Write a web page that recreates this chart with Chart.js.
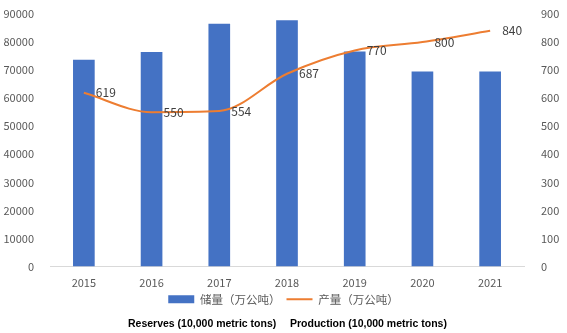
<!DOCTYPE html>
<html>
<head>
<meta charset="utf-8">
<script src="https://cdn.jsdelivr.net/npm/chart.js@4"></script>
<style>
  html, body { margin: 0; padding: 0; background: #fff; }
  #wrap { position: relative; width: 567px; height: 333px; }
  .en { position: absolute; top: 317px; font: bold 10.5px "Liberation Sans", Arial, sans-serif; color: #000; white-space: nowrap; }
</style>
</head>
<body>
<div id="wrap">
  <canvas id="chart" width="567" height="333"></canvas>
  <div class="en" style="left:128px">Reserves (10,000 metric tons)</div>
  <div class="en" style="left:290px">Production (10,000 metric tons)</div>
</div>
<script>
// chart data
const years = ['2015', '2016', '2017', '2018', '2019', '2020', '2021'];
const reserves = [73700, 76500, 86500, 87800, 76600, 69500, 69500];
const production = [619, 550, 554, 687, 770, 800, 840];
const seriesNames = ['储量（万公吨）', '产量（万公吨）'];

const blue = '#4472C4';
const orange = '#ED7D31';
const tickColor = '#595959';
const font = { family: '"Noto Sans CJK SC", "DejaVu Sans", sans-serif', size: 11 };

// little plugin to write the production values next to the line points
const valueLabels = {
    id: 'valueLabels',
    afterDatasetsDraw(chart) {
        const ctx = chart.ctx;
        const meta = chart.getDatasetMeta(1);
        ctx.save();
        ctx.font = '12px "Noto Sans CJK SC", "DejaVu Sans", sans-serif';
        ctx.fillStyle = '#404040';
        ctx.textAlign = 'left';
        ctx.textBaseline = 'middle';
        meta.data.forEach((pt, i) => {
            ctx.fillText(production[i], pt.x + 12, pt.y);
        });
        ctx.restore();
    }
};

function createChart() {
    const ctx = document.getElementById('chart').getContext('2d');
    new Chart(ctx, {
        data: {
            labels: years,
            datasets: [{
                type: 'bar',
                label: seriesNames[0],
                data: reserves,
                backgroundColor: blue,
                borderWidth: 0,
                yAxisID: 'y',
                categoryPercentage: 1,
                barPercentage: 0.32,
                order: 2
            }, {
                type: 'line',
                label: seriesNames[1],
                data: production,
                borderColor: orange,
                backgroundColor: orange,
                borderWidth: 2,
                pointRadius: 0,
                cubicInterpolationMode: 'monotone',
                yAxisID: 'y1',
                order: 1
            }]
        },
        options: {
            responsive: false,
            animation: false,
            layout: { padding: { top: 14, bottom: 18, left: 0, right: 0 } },
            scales: {
                x: {
                    grid: { display: false, drawTicks: false },
                    border: { display: true, color: '#D9D9D9' },
                    ticks: { color: tickColor, font: font, padding: 10 },
                    afterFit(scale) { scale.height = 21; }
                },
                y: {
                    position: 'left',
                    min: 0, max: 90000,
                    grid: { display: false },
                    border: { display: false },
                    ticks: { stepSize: 10000, color: tickColor, font: font, padding: 8, callback: v => String(v) },
                    afterFit(scale) { scale.width = 50; scale.paddingTop = 0; }
                },
                y1: {
                    position: 'right',
                    min: 0, max: 900,
                    grid: { display: false },
                    border: { display: false },
                    ticks: { stepSize: 100, color: tickColor, font: font, padding: 9, callback: v => String(v) },
                    afterFit(scale) { scale.width = 43; scale.paddingTop = 0; }
                }
            },
            plugins: {
                tooltip: { enabled: false },
                legend: {
                    position: 'bottom',
                    labels: {
                        color: tickColor,
                        font: { family: font.family, size: 11.5 },
                        usePointStyle: true,
                        pointStyleWidth: 26,
                        boxHeight: 8,
                        padding: 6,
                        generateLabels(chart) {
                            return Chart.defaults.plugins.legend.labels.generateLabels(chart)
                                .sort((a, b) => a.datasetIndex - b.datasetIndex)
                                .map(item => {
                                    const isBar = item.datasetIndex === 0;
                                    return {
                                        ...item,
                                        pointStyle: isBar ? 'rect' : 'line',
                                        lineWidth: isBar ? 0 : 2,
                                        strokeStyle: isBar ? blue : orange,
                                        fillStyle: isBar ? blue : orange
                                    };
                                });
                        }
                    }
                }
            }
        },
        plugins: [valueLabels]
    });
}

createChart();
</script>
</body>
</html>
